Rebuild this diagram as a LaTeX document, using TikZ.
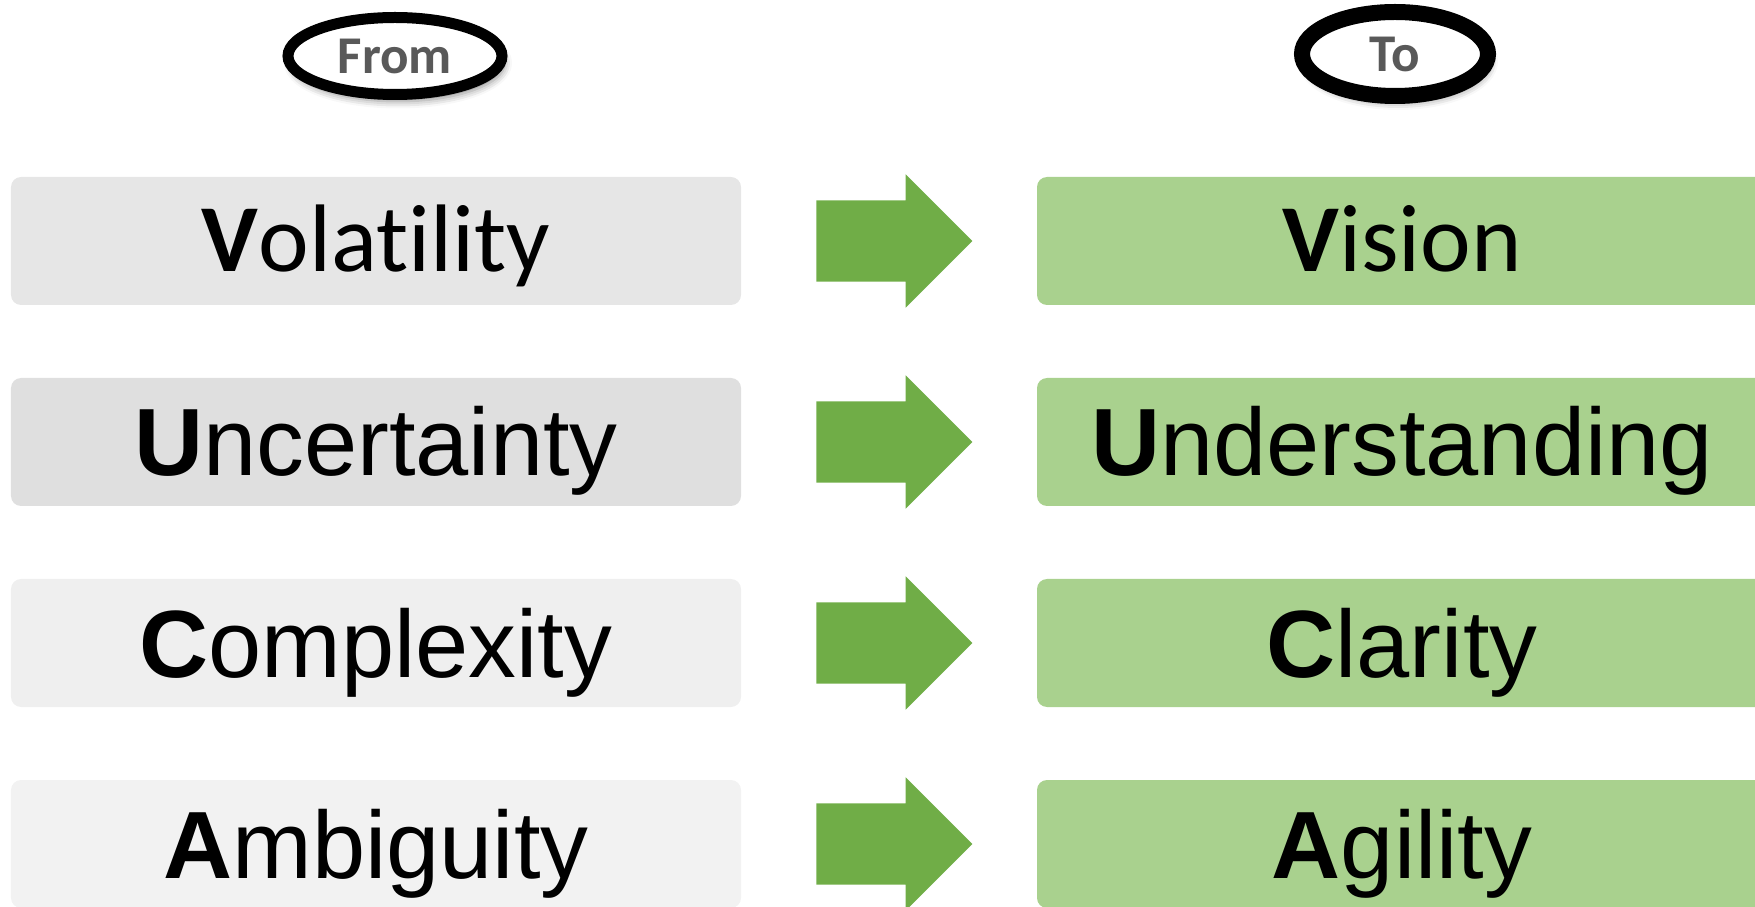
\documentclass[tikz,border=0pt]{standalone}
\usepackage{fontspec}
\usetikzlibrary{shapes.geometric,shapes.arrows,shadows.blur}
\newfontfamily\calfont[Ligatures=NoCommon]{Carlito}
\newfontfamily\arifont{Liberation Sans}
\definecolor{tagtext}{HTML}{595959}
\definecolor{oldA}{HTML}{E6E6E6}
\definecolor{oldB}{HTML}{DFDFDF}
\definecolor{oldC}{HTML}{EFEFEF}
\definecolor{oldD}{HTML}{F2F2F2}
\definecolor{newbox}{HTML}{A9D18E}
\definecolor{shiftgreen}{HTML}{70AD47}
\begin{document}
\begin{tikzpicture}[tag/.style={ellipse,draw=black,fill=white,inner sep=0pt,text=tagtext,font=\calfont\bfseries\fontsize{15.1}{18}\selectfont,blur shadow={shadow xshift=0.03cm,shadow yshift=-0.07cm,shadow blur radius=0.07cm,shadow opacity=45}},
    word/.style={rectangle,rounded corners=0.1cm,minimum width=7.3cm,minimum height=1.28cm,inner sep=0pt,text=black},
    cal/.style={font=\calfont\fontsize{27.3}{30}\selectfont,text height=0.61cm,text depth=0cm},
    ari/.style={font=\arifont\fontsize{27.2}{30}\selectfont,text height=0.68cm,text depth=0cm},
    shiftarrow/.style={single arrow,fill=shiftgreen,draw=none,inner xsep=0pt,inner ysep=0.4cm,minimum height=1.56cm,single arrow head extend=0.26cm,single arrow tip angle=90}]
    \useasboundingbox (0,0) rectangle (17.55,-9.07);
    \clip (0,0) rectangle (17.55,-9.07);
    %headers
    \node (From) at (3.95,-0.56)[tag,line width=0.11cm,minimum width=2.14cm,minimum height=0.77cm]{From};
    \node (To) at (13.95,-0.54)[tag,line width=0.16cm,minimum width=1.86cm,minimum height=0.84cm]{To};

    %from boxes
    \node (V1) at (3.76,-2.41)[word,cal,fill=oldA]{{\bfseries V}olatility};
    \node (U1) at (3.76,-4.42)[word,ari,fill=oldB]{{\bfseries U}ncertainty};
    \node (C1) at (3.76,-6.43)[word,ari,fill=oldC]{{\bfseries C}omplexity};
    \node (A1) at (3.76,-8.44)[word,ari,fill=oldD]{{\bfseries A}mbiguity};

    %shift arrows
    \node (S1) at (8.74,-2.41)[shiftarrow]{};
    \node (S2) at (8.74,-4.42)[shiftarrow]{};
    \node (S3) at (8.74,-6.43)[shiftarrow]{};
    \node (S4) at (8.74,-8.44)[shiftarrow]{};

    %to boxes
    \node (V2) at (14.02,-2.41)[word,cal,fill=newbox]{{\bfseries V}ision};
    \node (U2) at (14.02,-4.42)[word,ari,fill=newbox]{{\bfseries U}nderstanding};
    \node (C2) at (14.02,-6.43)[word,ari,fill=newbox]{{\bfseries C}larity};
    \node (A2) at (14.02,-8.44)[word,ari,fill=newbox]{{\bfseries A}gility};
\end{tikzpicture}
\end{document}
